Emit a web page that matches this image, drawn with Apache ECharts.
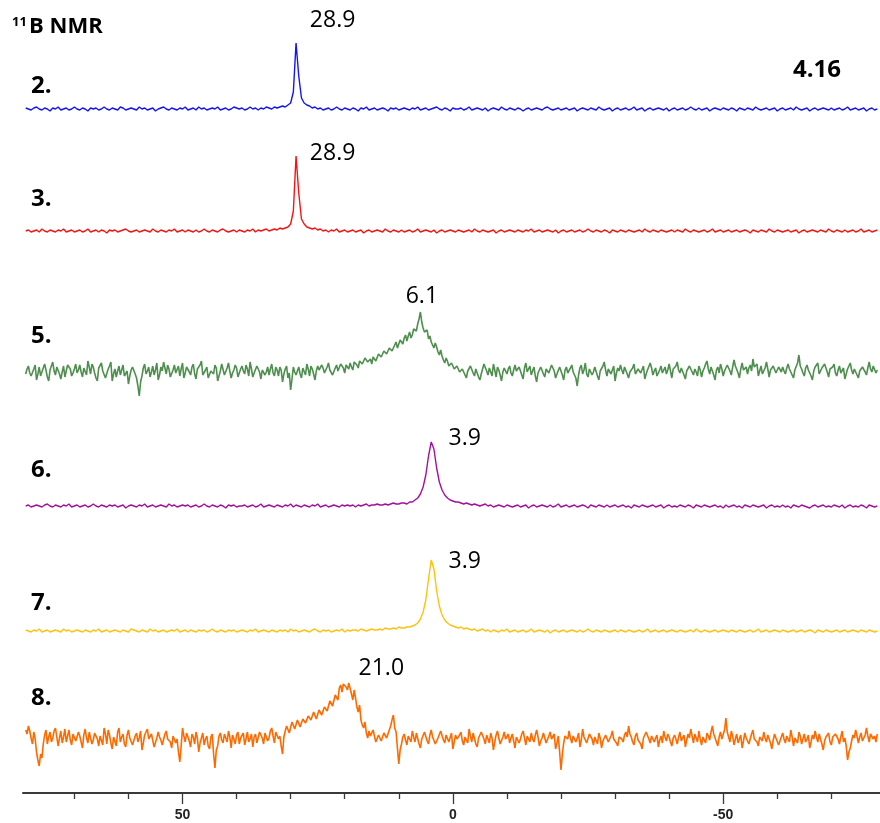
<!DOCTYPE html>
<html><head><meta charset="utf-8">
<script src="https://cdn.jsdelivr.net/npm/echarts@6/dist/echarts.min.js"></script>
<style>html,body{margin:0;padding:0;background:#fff}#c{width:880px;height:823px}</style>
</head><body><div id="c"></div>
<script>
// ---------- data ----------
const ppmStart = 79;                                   // first sampled shift (ppm), descending
const sampleStep = [0.5, 0.5, 0.25, 0.5, 0.5, 0.25];   // ppm spacing of each spectrum
const spectrumNames = ['2.', '3.', '5.', '6.', '7.', '8.'];
const peakShift = [28.9, 28.9, 6.1, 3.9, 3.9, 21.0];
const peakText = ['28.9', '28.9', '6.1', '3.9', '3.9', '21.0'];
const minorTicks = [70, 60, 40, 30, 20, 10, -10, -20, -30, -40, -60, -70];
const majorTicks = [50, 0, -50];
const titleSup = '11', titleMain = 'B NMR', figureLabel = '4.16';

// intensities (arbitrary units), 79 -> -78.5 ppm
const spec2 = [
1,0,-1,1,2,0,-1,1,0,-2,1,0,2,-1,0,1,-1,0,2,0,
-1,1,0,-2,1,0,1,-1,0,2,0,-1,1,0,-1,2,1,-1,0,1,
0,-1,2,0,1,-1,0,1,-2,0,1,2,0,-1,1,0,-1,1,0,2,
-1,0,1,-1,2,0,1,-1,0,1,0,2,-1,0,1,-1,0,2,1,0,
1,-1,0,2,0,1,-1,1,0,2,1,0,2,1,2,3,2,4,6,17,
66,33,11,6,4,3,1,2,0,1,-1,0,1,-1,0,2,0,-1,1,0,
-1,1,0,-2,1,0,2,-1,0,1,-1,0,1,0,-2,1,0,1,-1,0,
1,0,-1,1,0,2,-1,0,1,-1,0,1,2,0,-1,1,0,-2,1,0,
0,1,-1,0,2,-1,0,1,0,-1,1,-2,0,1,0,-1,2,0,-1,1,
0,-1,1,0,-2,0,1,-1,0,1,0,-1,1,2,0,-1,0,1,-1,0,
1,-1,0,1,-2,0,1,0,-1,1,0,-1,2,0,-1,0,1,-2,0,1,
-1,0,1,-1,0,2,-1,0,1,-2,0,1,-1,0,1,0,-1,1,-2,0,
1,-1,0,1,-1,0,2,0,-1,1,-1,0,1,-2,0,1,0,-1,1,0,
-1,1,0,-2,1,0,-1,1,0,-1,2,0,-1,0,1,-1,0,1,-2,0,
1,-1,0,1,-1,2,0,-1,0,1,-2,0,1,-1,0,1,0,-1,1,-1,
0,1,-1,0,2,-1,0,1,-1,0,1,-2,0,1,-1,0];
const spec3 = [
0,1,-1,0,1,-1,2,0,-1,1,0,-1,1,0,2,-1,0,1,-1,0,
1,-1,0,2,-1,0,1,-1,1,0,-2,1,0,1,-1,0,1,2,0,-1,
0,1,-1,0,1,0,-1,2,0,-1,1,0,-1,1,0,2,-1,0,1,-1,
1,0,-1,1,-1,0,2,0,-1,1,0,-1,1,2,0,-1,0,1,-1,1,
0,-1,1,0,2,-1,1,0,1,2,0,1,2,1,3,2,3,4,7,20,
75,38,12,7,4,3,2,3,1,2,0,1,-1,1,0,2,-1,0,1,-1,
0,1,-1,0,1,-2,0,1,-1,0,1,0,-1,2,0,-1,1,0,-1,1,
-1,0,1,-1,0,2,-1,0,1,0,-1,1,-2,0,1,-1,0,1,0,-1,
1,0,-1,0,1,-1,2,0,-1,1,0,-1,0,1,-2,0,1,-1,0,1,
0,-1,1,0,-1,1,0,2,-1,0,1,-1,0,1,0,-1,1,-2,0,1,
-1,0,1,-1,0,1,-1,0,2,0,-1,1,0,-1,1,0,-2,1,0,-1,
1,0,-1,1,0,-1,0,1,-1,2,0,-1,1,0,-1,1,0,-1,0,1,
-1,1,0,-1,2,0,-1,1,0,-1,0,1,-1,0,2,-1,0,1,-1,0,
1,-1,0,1,-1,0,1,0,-2,1,0,-1,1,0,-1,2,0,-1,1,0,
-1,0,1,-1,0,1,-2,0,1,-1,0,1,0,-1,1,0,-1,2,0,-1,
1,0,-1,1,-1,0,1,-1,0,2,-1,0,1,-1,0,1];
const spec5 = [
-2,3,6,-1,-4,-6,3,7,-8,-2,5,-4,0,4,8,2,-5,-9,2,6,10,1,-3,5,4,-2,-7,0,6,-5,1,7,9,3,-4,-1,3,8,-1,2,
7,0,-5,4,2,-3,11,5,-2,8,5,-1,-6,-9,4,6,9,1,0,-6,-4,3,6,10,-9,-2,3,-5,1,6,-3,2,7,-4,-6,1,-12,-4,2,5,
3,-2,-6,-14,-24,-10,-4,4,8,-2,1,5,-5,0,6,-3,2,9,-8,-3,5,1,10,4,-2,7,3,-5,-6,2,7,-1,0,6,-4,3,9,-6,-1,5,
4,0,-3,5,8,-2,-7,3,2,7,11,-3,-1,2,5,-6,-5,1,3,-2,7,4,-9,-4,1,8,6,-3,-2,4,9,1,-6,-1,2,7,4,-5,-3,3,
6,1,-2,7,3,-4,10,3,-5,-1,1,6,7,0,-7,2,4,-3,0,5,-3,3,8,-1,-4,5,2,-4,5,2,-10,-2,3,6,-6,-1,-18,-7,5,0,
-3,1,5,-2,-6,4,2,-3,8,3,-4,6,3,-2,-8,1,6,2,0,7,4,-1,-2,5,9,2,1,-3,-5,4,7,1,3,8,10,4,-1,7,6,3,
9,5,2,10,12,7,4,11,13,8,6,14,15,10,9,13,8,15,17,11,12,18,20,15,14,21,23,18,17,24,26,21,22,27,30,24,25,32,33,28,
34,37,31,36,40,34,37,43,45,41,48,53,60,50,44,40,38,42,33,36,30,27,24,29,25,20,17,22,16,12,9,14,11,6,4,9,7,3,2,6,
5,0,-2,3,4,-3,-6,1,2,6,7,-1,-4,3,1,-5,-8,-2,3,8,6,1,-3,4,0,-4,8,2,-5,5,2,-3,-9,0,4,6,-2,3,6,-1,
-4,2,7,1,-1,5,3,-3,-7,4,9,0,2,6,-3,1,5,-4,-10,-1,1,5,6,-2,-5,3,4,-1,-2,7,8,1,-6,-2,0,5,3,-3,-8,2,
5,-1,-3,4,7,0,1,-6,-14,-3,4,7,-2,2,9,-2,-5,3,3,-3,0,5,6,-4,-8,1,2,6,10,2,-4,3,5,-2,-1,6,-9,-1,4,1,
7,2,-2,5,3,-2,-6,0,1,4,8,-2,-4,3,5,-1,0,6,-7,-2,2,3,9,4,-3,1,4,-4,-5,2,6,-1,1,5,-2,2,8,1,-6,3,
3,6,10,2,-1,4,5,-3,-7,1,2,6,7,0,-3,3,0,-4,6,2,-5,1,4,8,11,3,-2,5,1,-3,-8,2,5,-1,8,3,-4,1,2,7,
6,1,-3,5,12,6,4,-1,-6,3,9,2,1,5,-2,4,7,1,13,5,3,8,-4,1,6,-2,0,4,10,3,-5,2,2,6,8,-1,-1,5,4,0,
5,1,-2,4,8,3,1,-3,-6,2,4,9,17,6,3,-1,-4,4,7,2,0,-4,-8,1,5,3,9,-2,-3,4,2,8,6,0,-5,3,1,5,8,-1,
-4,2,6,-1,1,4,-7,-2,3,6,9,2,-2,3,5,-3,-6,1,2,5,7,0,-3,4,10,3,0,6,4,-1,2];
const spec6 = [
0,1,-1,0,1,0,-1,1,2,0,-1,1,0,-1,1,0,2,-1,0,1,
-1,0,1,-1,0,2,0,-1,1,0,-1,1,0,1,-1,0,1,-2,0,1,
0,-1,1,0,2,-1,0,1,-1,0,1,0,-1,2,0,1,-1,0,1,0,
1,-1,0,1,-1,0,2,0,-1,1,0,-1,1,0,-2,1,0,1,-1,0,
0,1,-1,0,1,-1,0,2,-1,0,1,0,-1,1,0,-1,1,0,2,-1,
1,0,-1,1,0,-1,1,0,2,-1,0,1,-1,0,1,0,-1,1,0,1,
0,1,-1,1,0,1,2,0,1,1,2,1,1,2,1,2,3,2,2,3,
3,2,4,4,6,8,12,19,31,50,64,57,38,24,16,11,8,6,5,4,
4,3,2,3,2,1,2,1,0,1,2,0,1,-1,0,1,0,-1,1,0,
-1,0,1,-1,0,1,-2,0,1,-1,0,1,0,-1,1,-1,0,2,-1,0,
1,-1,0,1,-1,0,1,0,-2,1,0,-1,1,0,-1,1,-1,0,1,-1,
0,1,-1,0,-2,1,0,-1,1,0,-1,0,1,-1,0,1,-2,0,1,-1,
0,-1,1,0,-1,1,0,-2,1,0,-1,1,0,-1,0,1,-1,0,-2,1,
-1,0,1,-1,0,-2,1,0,-1,1,0,-1,0,1,-2,0,1,-1,0,-1,
1,-1,0,-2,1,0,-1,1,0,-1,-2,0,1,-1,0,1,-1,0,-1,1,
0,-1,1,-2,0,1,-1,0,-1,1,0,-2,1,0,-1,0];
const spec7 = [
1,0,-1,1,0,2,-1,0,1,-1,0,1,0,-1,2,0,1,-1,0,1,
0,-1,1,0,-1,1,0,2,-1,0,1,-1,0,1,0,-1,1,0,-1,2,
1,0,-1,1,0,-1,2,0,1,-1,0,1,-1,0,1,0,2,-1,0,1,
-1,1,0,-1,1,0,1,-1,0,2,0,-1,1,0,-1,1,0,1,-1,0,
1,0,-1,1,0,2,-1,0,1,0,-1,1,0,-1,1,0,1,-1,2,0,
1,-1,0,1,0,-1,1,2,0,-1,1,0,1,-1,0,1,0,2,-1,1,
0,1,1,0,2,1,0,1,2,1,1,2,1,3,2,2,3,2,4,3,
3,4,4,5,6,8,12,19,31,52,71,62,40,25,16,11,8,6,5,4,
3,4,2,3,2,1,2,0,1,2,0,1,-1,1,0,-1,1,0,2,-1,
0,1,-1,0,1,-1,0,2,-1,0,1,0,-1,1,-2,0,1,-1,0,1,
-1,0,1,0,-1,1,-1,0,2,0,-1,1,0,-1,1,0,-1,0,1,-1,
1,0,-1,1,0,-1,0,1,-1,0,2,-1,0,1,-1,0,1,-1,0,1,
0,-1,1,0,-1,0,1,-1,2,0,-1,1,0,-1,0,1,-1,0,1,0,
-1,1,0,-1,1,0,-1,0,1,-1,0,2,-1,0,1,-1,0,1,0,-1,
1,0,-1,0,1,-1,0,1,-1,0,1,0,-2,1,0,-1,1,0,-1,0,
1,-1,0,1,-1,0,1,0,-1,1,0,-1,1,0,-1,0];
const spec8 = [
10,6,14,9,2,-4,8,1,-12,-20,-26,-14,-18,-4,5,10,-4,3,8,-2,2,9,12,3,-6,2,9,-3,3,11,-2,4,10,0,-5,6,7,-1,1,8,
4,-2,-8,5,11,2,-3,8,6,-4,0,7,9,1,-6,4,3,-5,12,6,-4,10,5,-3,-9,3,2,-6,8,12,-2,3,6,-4,-7,5,10,2,1,-5,
-3,4,7,-2,2,9,-10,-3,5,8,11,1,-1,6,4,-7,-6,2,8,3,0,-5,-4,6,9,1,3,-2,-8,4,6,-3,1,-12,-22,-6,12,4,-2,7,
5,-1,-7,6,3,-4,8,2,-12,-3,2,7,-5,1,4,-6,-9,3,6,-14,-28,-10,-6,4,7,0,-3,6,4,-2,9,3,-8,5,1,-4,5,8,-4,2,
3,7,-5,1,8,-2,1,6,-7,3,6,-3,-2,8,10,2,-4,7,5,-1,2,9,12,4,-3,8,7,1,4,-6,-14,3,9,14,13,7,8,18,16,11,
12,20,19,13,14,21,22,17,16,24,25,20,19,28,27,21,22,30,32,25,26,33,35,29,30,39,38,34,36,45,44,40,52,55,48,56,58,53,50,57,
55,46,40,50,42,33,28,35,20,15,12,18,7,2,9,4,2,10,8,-2,-3,5,6,-1,1,7,9,2,4,10,14,20,25,12,8,-8,-24,-10,-4,3,
6,0,-5,4,3,-2,9,3,-2,7,5,-4,-8,1,2,8,7,-1,-4,5,10,3,1,-4,-6,2,4,9,8,0,-3,5,6,-2,0,7,-9,-2,5,1,
2,5,8,-1,-5,3,4,-3,11,4,-2,7,6,-4,-7,2,3,8,9,1,-4,5,1,-3,7,2,-10,-2,5,9,2,-4,-6,3,8,1,3,6,-3,2,
6,-1,-8,3,4,-3,1,6,9,2,-5,4,3,-2,7,1,-2,5,10,3,-6,-1,2,7,5,-3,-4,4,8,1,0,6,-9,-3,4,-12,-30,-14,-3,4,
5,1,9,2,-3,4,6,-2,2,7,-7,0,11,3,4,-3,-2,6,8,1,-5,3,3,-4,7,2,-8,-1,1,5,6,-2,-4,4,9,1,2,-3,-6,3,
4,1,-2,5,8,3,14,6,3,-2,-5,4,7,0,1,-4,-9,2,5,8,10,1,-3,4,6,-2,2,5,-7,0,4,-3,9,3,-1,6,3,-2,-6,2,
5,1,-4,3,8,-1,2,5,-7,0,6,2,11,4,-3,6,4,-2,9,1,-5,3,2,-3,7,4,0,8,14,6,4,-2,-6,3,8,1,1,10,22,8,
3,-2,9,4,-5,1,6,-3,1,5,-8,-1,7,2,4,-4,-3,6,10,1,2,-2,-6,3,5,-1,8,2,-2,5,4,-3,-9,0,6,2,1,-5,-4,3,
7,1,-3,4,5,-2,10,3,-6,2,2,-3,8,4,-4,1,6,-2,1,5,-8,-2,5,1,9,3,-2,6,4,-4,-10,-1,3,5,7,-2,-5,3,2,6,
6,1,-4,3,9,-2,2,-6,-20,-12,-8,-1,5,2,10,4,-3,3,7,-1,1,5,12,4,-2,6,8,1,4,-2,6];
const spectra = [spec2, spec3, spec5, spec6, spec7, spec8];

// ---------- presentation ----------
const colors = ['#1414F5', '#F51414', '#4E8F4E', '#A3119A', '#FFC20E', '#FF6A00'];
const widths = [1.4, 1.4, 1.6, 1.4, 1.4, 1.6];
const gridTops = [29, 151, 292, 426, 551, 660];
const nameY = [86, 199, 336, 470, 603, 698];
const labelOffsets = [[36, -23], [36, -3], [2, -16], [33, -4], [33, 1], [42, -14]];
const X_MIN = -79, X_MAX = 79.5, GL = 23, GR = 0;
const FONT = '"Open Sans","Noto Sans",sans-serif';

const grid = [], xAxis = [], yAxis = [], series = [], graphic = [];
spectra.forEach((vals, k) => {
  const ppm = vals.map((_, i) => +(ppmStart - i * sampleStep[k]).toFixed(3));
  grid.push({ left: GL, right: GR, top: gridTops[k], height: 120 });
  xAxis.push({ type: 'value', gridIndex: k, min: X_MIN, max: X_MAX, inverse: true, show: false });
  yAxis.push({ type: 'value', gridIndex: k, min: -40, max: 80, show: false });
  let best = -Infinity;
  ppm.forEach((p, i) => { if (Math.abs(p - peakShift[k]) <= 1 && vals[i] > best) best = vals[i]; });
  series.push({
    type: 'line', xAxisIndex: k, yAxisIndex: k, showSymbol: false, silent: true,
    data: vals.map((v, i) => [ppm[i], v]),
    lineStyle: { color: colors[k], width: widths[k] },
    markPoint: {
      symbol: 'circle', symbolSize: 0, silent: true,
      data: [{ coord: [peakShift[k], best], value: peakText[k] }],
      label: { show: true, position: 'inside', offset: labelOffsets[k], formatter: peakText[k],
        color: '#000', fontFamily: FONT, fontSize: 23 }
    }
  });
  graphic.push({ type: 'text', x: 31, y: nameY[k],
    style: { text: spectrumNames[k], font: 'bold 24px ' + FONT, fill: '#000', verticalAlign: 'middle' } });
});
// bottom ppm axis
grid.push({ left: GL, right: GR, top: 700, height: 93 });
yAxis.push({ type: 'value', gridIndex: 6, show: false, min: 0, max: 1 });
xAxis.push({ type: 'value', gridIndex: 6, min: X_MIN, max: X_MAX, inverse: true, position: 'bottom',
  axisLine: { show: true, lineStyle: { color: '#3a3a3a', width: 2 } },
  axisTick: { show: true, customValues: minorTicks, length: 6, lineStyle: { color: '#3a3a3a', width: 1.3 } },
  axisLabel: { show: false }, splitLine: { show: false } });
xAxis.push({ type: 'value', gridIndex: 6, min: X_MIN, max: X_MAX, inverse: true, position: 'bottom',
  axisLine: { show: false },
  axisTick: { show: true, customValues: majorTicks, length: 11, lineStyle: { color: '#3a3a3a', width: 1.3 } },
  axisLabel: { show: true, customValues: majorTicks, margin: 15, color: '#222',
    fontFamily: '"Liberation Sans",Arial,sans-serif', fontWeight: 'bold', fontSize: 14 },
  splitLine: { show: false } });

graphic.push({ type: 'text', x: 12, y: 22, style: { text: titleSup, font: 'bold 13px ' + FONT, fill: '#000', verticalAlign: 'middle' } });
graphic.push({ type: 'text', x: 29, y: 27, style: { text: titleMain, font: 'bold 22px ' + FONT, fill: '#000', verticalAlign: 'middle' } });
graphic.push({ type: 'text', x: 793, y: 70, style: { text: figureLabel, font: 'bold 24px ' + FONT, fill: '#000', verticalAlign: 'middle' } });

const chart = echarts.init(document.getElementById('c'), null, { renderer: 'canvas' });
chart.setOption({ animation: false, backgroundColor: '#fff', grid, xAxis, yAxis, series, graphic });
</script></body></html>
